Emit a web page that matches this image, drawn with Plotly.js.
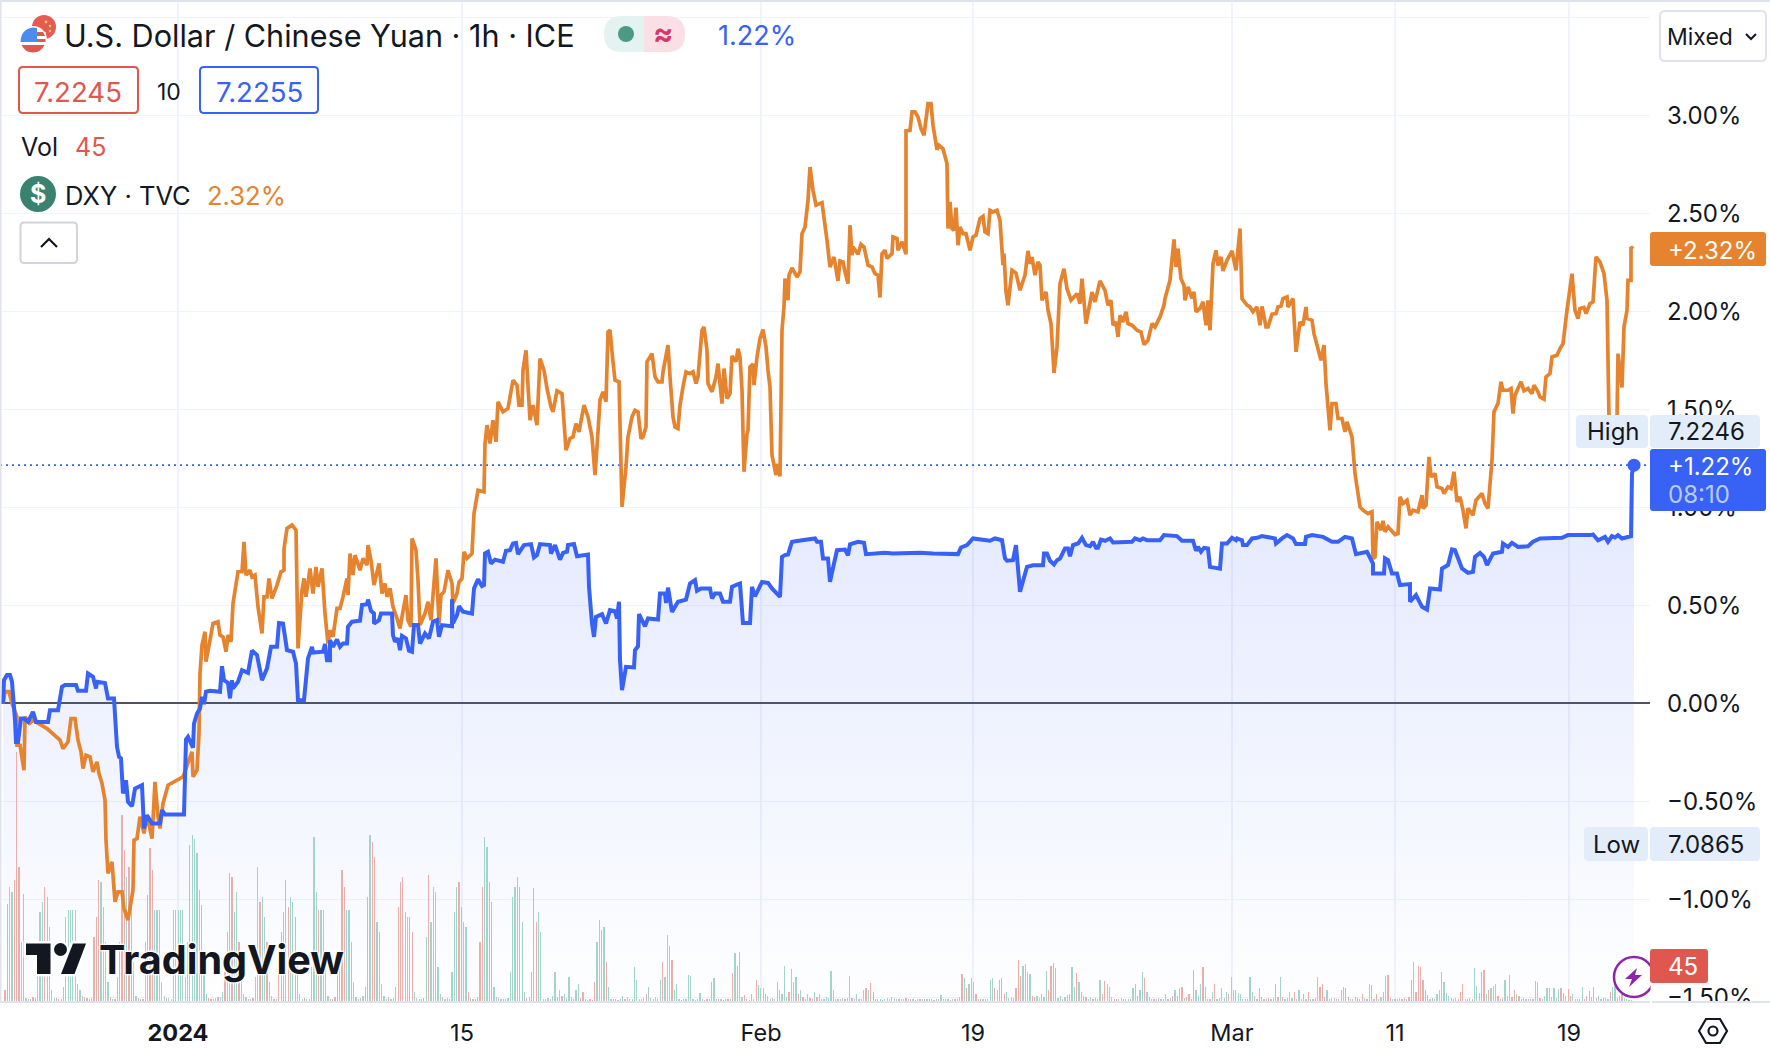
<!DOCTYPE html>
<html><head><meta charset="utf-8">
<script src="https://cdn.plot.ly/plotly-3.0.1.min.js"></script>
<style>html,body{margin:0;padding:0;background:#fff}#c{width:1770px;height:1048px}</style></head>
<body><div id="c"></div>
<script>
// x values are chart time slots; y values are percent change from the first bar
const orangeSlots=[3,5,9,12,17,17,20,24,25,30,33,47,60,63,68,71,75,78,81,83,86,90,93,97,99,102,105,106,108,112,115,118,122,124,128,133,134,137,140,144,147,152,155,158,160,163,168,183,192,193,197,199,200,202,205,206,210,213,218,220,223,226,228,231,233,238,242,244,246,250,252,255,258,262,264,267,269,272,277,281,284,284,287,292,296,298,302,304,306,310,313,316,318,322,325,328,330,333,337,340,
343,347,348,350,353,355,360,363,367,368,371,374,379,382,385,387,390,393,397,400,402,406,408,411,412,416,418,420,425,428,431,436,439,441,444,448,452,453,457,459,462,464,467,472,474,478,484,485,487,490,493,496,498,503,508,513,517,519,522,523,526,530,533,537,540,544,547,551,553,557,562,566,570,573,576,579,584,588,592,595,597,600,603,606,608,610,613,615,619,622,626,628,632,635,638,641,643,646,647,652,655,658,662,663,668,670,673,675,678,680,683,
686,690,693,696,698,702,704,707,708,712,716,718,722,724,727,730,732,736,738,740,742,744,747,748,750,753,754,757,760,763,766,768,770,772,776,777,780,782,784,785,788,789,792,797,800,802,805,808,810,813,816,822,827,830,834,838,840,843,845,848,850,852,853,858,861,864,868,872,875,878,880,882,885,887,892,893,897,898,902,906,906,910,912,915,918,921,924,928,931,933,937,939,943,947,948,950,952,954,956,958,960,963,966,970,973,976,980,983,985,988,990,993,997,1000,1003,1004,1006,1008,1012,1016,1020,1025,1028,1030,1032,1035,1038,1040,
1042,1046,1048,1051,1054,1057,1060,1064,1067,1071,1077,1080,1082,1086,1092,1095,1100,1105,1108,1111,1113,1116,1118,1120,1123,1126,1128,1132,1137,1141,1144,1148,1152,1155,1160,1164,1165,1170,1174,1176,1178,1181,1184,1185,1188,1192,1194,1196,1200,1203,1206,1208,1210,1213,1216,1218,1221,1223,1227,1232,1236,1240,1242,1247,1250,1253,1257,1260,1262,1266,1268,1272,1276,1278,1281,1283,1287,1288,1293,1296,1300,1303,1306,1307,1312,1314,1321,1324,1326,1330,1332,1336,1338,1342,1345,1347,1352,1355,1360,
1363,1368,1372,1373,1375,1377,1381,1383,1385,1388,1395,1398,1400,1403,1407,1410,1413,1418,1422,1423,1426,1429,1431,1435,1437,1442,1444,1448,1451,1454,1457,1460,1463,1466,1468,1473,1476,1482,1485,1488,1492,1494,1498,1501,1503,1508,1511,1513,1515,1521,1524,1528,1532,1534,1538,1540,1544,1546,1550,1552,1557,1560,1563,1567,1572,1575,1578,1580,1584,1586,1590,1593,1596,1600,1604,1607,1609,1617,1618,1622,1624,1627,1628,1631,1631,1633];
const orangeChange=[0,.06,.06,0,-.068,-.213,-.213,-.34,-.068,-.1,-.085,-.128,-.187,-.23,-.196,-.077,-.077,-.187,-.247,-.332,-.264,-.272,-.349,-.298,-.357,-.408,-.493,-.697,-.867,-.808,-1.012,-.961,-.961,-1.046,-1.105,-.952,-.697,-.689,-.578,-.663,-.57,-.689,-.4,-.578,-.638,-.51,-.417,-.374,-.247,-.374,-.34,-.153,.153,.298,.366,.213,.323,.408,.417,.349,.34,.264,.349,.315,.51,.672,.672,.825,.655,.68,.646,.655,.493,.357,.544,.544,.638,.536,.604,.672,.68,.79,.893,.91,.884,.281,.578,.638,.544,.689,.561,.697,.595,.689,.459,.306,.374,.34,.485,.485,
.544,.638,.553,.765,.655,.757,.68,.74,.706,.808,.731,.604,.714,.561,.612,.544,.587,.493,.434,.383,.442,.553,.425,.391,.842,.782,.629,.4,.459,.519,.425,.74,.408,.553,.57,.68,.612,.51,.561,.62,.638,.774,.74,.765,.969,1.088,1.08,1.326,1.42,1.326,1.445,1.335,1.539,1.488,1.505,1.649,1.624,1.522,1.522,1.7,1.802,1.445,1.522,1.42,1.76,1.7,1.607,1.513,1.488,1.595,1.581,1.292,1.352,1.36,1.428,1.386,1.522,1.462,1.36,1.165,1.309,1.547,1.59,1.539,1.896,1.904,1.743,1.649,1.641,1.003,1.207,1.36,1.462,1.496,1.488,1.352,1.36,1.411,1.743,1.785,1.666,1.641,1.641,1.692,1.828,1.666,1.462,1.411,1.403,1.522,1.615,
1.692,1.683,1.692,1.632,1.666,1.904,1.921,1.802,1.632,1.59,1.666,1.734,1.53,1.709,1.556,1.581,1.773,1.743,1.81,1.768,1.598,1.182,1.377,1.394,1.717,1.731,1.624,1.768,1.862,1.907,1.819,1.7,1.615,1.267,1.165,1.224,1.159,1.904,2.023,2.168,2.057,2.185,2.222,2.176,2.202,2.397,2.431,2.567,2.737,2.618,2.542,2.555,2.363,2.227,2.278,2.156,2.258,2.253,2.202,2.142,2.44,2.287,2.329,2.292,2.343,2.329,2.236,2.227,2.193,2.185,2.071,2.295,2.312,2.27,2.295,2.38,2.372,2.312,2.355,2.292,2.921,2.924,3.018,3.018,2.992,2.933,2.899,3.06,3.06,2.95,2.825,2.848,2.83,2.754,2.423,2.559,2.423,2.414,2.53,2.338,2.431,2.397,2.397,2.312,2.38,2.389,2.474,2.485,2.406,2.397,2.516,2.508,2.516,2.465,2.236,2.295,2.1,2.032,2.21,2.196,2.108,2.185,2.309,2.244,2.278,2.185,2.253,2.235,
2.057,2.1,2.006,1.938,1.686,1.819,2.142,2.218,2.116,2.057,2.091,2.04,2.167,1.938,2.099,2.049,2.156,2.108,2.032,2.057,1.93,1.946,1.87,1.98,1.946,1.998,1.938,1.93,1.904,1.895,1.831,1.853,1.938,1.921,1.972,2.032,2.066,2.159,2.368,2.227,2.32,2.167,2.133,2.057,2.125,2.066,2.1,1.998,2.015,2.049,1.93,2.057,1.904,2.244,2.312,2.235,2.278,2.207,2.261,2.309,2.21,2.423,2.066,2.032,2.023,1.998,2.023,1.93,2.026,1.921,1.921,1.986,1.989,2.023,2.028,2.066,2.074,2.023,2.066,1.794,1.946,1.93,2.023,1.964,1.955,1.887,1.751,1.828,1.632,1.394,1.53,1.53,1.454,1.454,1.386,1.437,1.36,1.173,1.003,
.986,.969,.978,.74,.748,.927,.884,.932,.876,.901,.862,.867,1.054,1.02,1.037,.961,.986,.978,1.063,.995,1.012,1.258,1.156,1.173,1.105,1.097,1.071,1.105,1.097,1.182,1.029,1.054,.986,.893,.995,.961,1.037,1.071,1.02,.995,1.241,1.488,1.53,1.641,1.598,1.598,1.607,1.479,1.573,1.641,1.595,1.607,1.581,1.624,1.59,1.564,1.552,1.666,1.683,1.768,1.777,1.81,1.836,2.006,2.193,2.006,1.964,2.015,2.02,1.989,2.04,2.049,2.278,2.253,2.193,2.057,1.45,1.45,1.785,1.612,1.921,2.006,2.159,2.159,2.329,2.32];
const blueSlots=[3,4,7,10,12,15,16,18,21,24,28,33,36,48,50,58,62,65,76,78,86,88,93,96,97,105,108,114,117,119,121,123,126,128,132,135,142,144,147,152,160,162,165,184,186,188,193,194,197,200,202,204,206,210,220,222,224,228,230,232,233,238,242,248,252,257,262,267,271,277,279,283,287,293,296,298,304,308,312,313,323,325,327,330,330,333,337,340,343,347,
348,352,360,362,367,368,371,374,374,379,381,392,393,395,398,400,402,406,409,412,414,418,420,425,429,433,437,439,442,452,452,453,457,459,463,472,474,478,482,484,485,488,491,495,503,506,510,513,516,518,524,531,534,537,540,550,551,555,560,563,567,568,574,577,588,589,592,594,596,602,606,610,615,617,619,620,622,626,634,635,638,639,645,648,658,660,665,666,668,672,
678,686,690,695,697,701,710,712,715,720,723,730,732,737,740,743,750,752,755,762,768,772,780,782,785,788,792,802,815,817,821,823,828,830,834,837,845,848,850,858,864,866,885,893,920,933,958,961,967,973,990,995,1002,1005,1007,1013,1016,1020,1027,1033,
1043,1044,1047,1050,1054,1057,1060,1065,1068,1070,1073,1078,1082,1086,1090,1093,1096,1098,1101,1105,1110,1113,1132,1135,1140,1143,1147,1160,1164,1177,1182,1193,1196,1198,1201,1204,1208,1210,1220,1222,1227,1232,1236,1237,1242,1243,1247,1252,1257,1262,1275,1276,1282,1287,1293,1296,1305,1306,1312,1323,
1332,1338,1345,1352,1356,1367,1373,1373,1384,1385,1388,1392,1397,1400,1410,1410,1416,1422,1427,1430,1440,1442,1448,1452,1455,1462,1468,1473,1475,1480,1484,1487,1493,1502,1503,1508,1512,1518,1528,1533,1540,1562,1568,1590,1593,1598,1605,1608,1612,1615,1618,1622,1631,1632,1634];
const blueChange=[0,.119,.145,.145,.111,-.085,-.196,-.196,-.077,-.077,-.094,-.043,-.094,-.094,-.034,-.034,.085,.094,.094,.065,.065,.153,.136,.077,.111,.105,.026,.026,-.221,-.272,-.281,-.459,-.391,-.502,-.524,-.434,-.417,-.638,-.57,-.612,-.612,-.544,-.566,-.566,-.184,-.17,-.225,-.102,-.051,-.026,.034,-.003,.06,.065,.06,.19,.119,.105,.026,.119,.077,.111,.17,.156,.27,.247,.119,.179,.289,.289,.411,.408,.272,.264,.204,.017,.017,.23,.289,.26,.264,.304,.221,.221,.323,.289,.326,.289,.306,.306,
.391,.417,.422,.502,.506,.53,.472,.459,.408,.425,.459,.459,.349,.315,.332,.272,.345,.332,.269,.264,.4,.4,.306,.357,.332,.417,.425,.34,.4,.394,.532,.41,.451,.496,.468,.459,.587,.633,.599,.604,.765,.774,.714,.734,.723,.779,.782,.816,.819,.762,.808,.813,.745,.757,.813,.808,.765,.808,.734,.768,.774,.808,.813,.751,.76,.595,.408,.34,.442,.456,.408,.476,.471,.434,.519,.221,.068,.187,.184,.272,.292,.456,.394,.434,.428,.561,.561,.513,.591,.467,
.519,.53,.612,.629,.575,.587,.587,.536,.561,.561,.519,.519,.595,.607,.612,.41,.41,.595,.547,.62,.615,.587,.544,.748,.757,.76,.825,.833,.842,.825,.825,.74,.74,.621,.714,.782,.785,.756,.812,.825,.82,.762,.769,.765,.769,.765,.762,.796,.808,.842,.83,.842,.833,.74,.728,.731,.808,.57,.697,.705,
.705,.765,.765,.728,.709,.731,.739,.791,.791,.751,.808,.816,.845,.808,.802,.825,.794,.794,.836,.83,.842,.821,.825,.842,.833,.842,.833,.833,.859,.854,.83,.83,.779,.799,.774,.794,.791,.697,.688,.816,.816,.845,.833,.842,.833,.808,.808,.842,.845,.854,.842,.816,.842,.859,.842,.813,.813,.85,.859,.85,
.825,.825,.85,.842,.762,.774,.714,.663,.663,.74,.731,.663,.663,.604,.609,.519,.553,.493,.479,.587,.581,.689,.706,.786,.782,.689,.666,.672,.748,.768,.748,.706,.765,.774,.816,.799,.82,.799,.802,.825,.842,.845,.859,.859,.862,.833,.85,.825,.854,.847,.859,.842,.854,1.173,1.216];
// volume per bar: the sign carries the bar colour (+ up, - down)
const volumeSigned=[-12,-98,115,110,-122,-250,-135,60,-108,4,-3,3,
-5,-4,60,90,100,-115,-105,75,12,4,-4,-3,
3,15,85,92,92,92,92,18,12,-6,5,-4,
3,-4,-65,-85,-122,120,95,60,20,-5,3,-3,
-25,-60,-187,-152,125,-135,-100,-40,6,-4,3,-3,
60,-107,-154,-132,92,92,92,20,6,-4,4,3,
92,92,92,92,92,25,60,-157,167,163,149,112,
97,35,8,-4,-3,3,4,-5,5,10,-30,70,
-129,-125,90,110,-60,40,8,5,-3,3,-4,25,
135,-100,105,85,-60,20,6,-3,3,-30,-70,-90,
-122,-95,105,100,-85,40,8,3,-4,3,-3,35,
165,110,-92,92,92,45,6,-3,3,-5,-30,-50,
-132,-115,92,92,-60,20,5,3,-4,6,-15,-105,
167,-160,-145,80,70,18,6,3,-5,3,-4,-15,
-95,-120,-125,90,85,-85,-70,10,4,-3,3,-4,
65,-127,80,115,110,35,8,-5,3,-4,3,30,
90,115,-120,-95,80,75,-10,4,-3,3,-5,-60,
-115,165,155,-120,-100,15,5,-4,3,-3,3,4,
30,105,115,-125,-115,80,10,-4,-5,-30,-114,-80,
90,70,3,-3,4,-3,6,30,5,12,-6,8,
4,25,5,-3,12,18,-4,-10,3,-2,-3,-2,
-20,60,82,72,75,-40,15,3,-3,-3,-2,3,
6,-3,5,-3,3,35,22,-3,3,-4,-8,15,
4,-3,5,-3,22,-40,25,67,56,-42,12,18,
3,-2,3,3,27,26,3,-2,3,9,3,-2,
-3,-3,-20,24,3,-3,3,-2,-3,-3,3,-29,
49,-36,50,5,-7,-3,-2,-8,3,-22,17,14,
14,-8,6,3,-4,3,-20,12,8,36,5,-10,
33,20,25,-8,12,-5,3,8,-4,-3,10,-5,
8,-3,3,5,4,31,12,-3,3,-3,4,-3,
4,26,-4,3,8,-3,3,12,-14,12,-19,-10,
3,-3,3,2,3,-4,3,-5,4,3,-3,3,
3,-4,3,-3,3,-2,3,-3,3,-3,3,3,
-3,-2,3,-3,7,3,-3,3,-2,3,-3,3,
-5,-28,24,-14,18,24,20,-8,3,-3,3,-3,
3,22,24,-14,12,-22,-24,-8,10,4,-5,4,
-14,-42,-26,36,38,30,28,-6,-5,6,4,-8,
5,31,-12,-36,-39,-34,4,6,-3,5,7,8,
35,15,-29,20,10,-6,-5,3,5,-3,-4,3,
22,-8,-21,18,15,5,-3,3,-3,4,-3,3,
3,-3,14,18,-6,12,30,-24,10,-5,3,-3,
3,-4,3,-3,8,-3,4,-6,12,-6,14,-15,
4,-5,-8,-3,-32,12,6,18,-35,15,3,-3,
10,-18,3,-4,-14,4,10,-8,25,12,-12,9,
8,3,-3,3,25,10,-6,3,-14,-5,3,-3,
-4,3,4,-18,-5,25,-5,3,-4,10,4,-10,
-3,12,3,-8,3,-10,3,-3,4,25,-15,-18,
-5,12,-3,4,-4,3,-3,-12,15,-14,-5,3,
-3,-5,4,-3,-8,4,-3,18,-17,-3,-8,3,
5,-10,26,-27,-4,3,-3,3,4,-3,-4,3,
-5,-22,40,-10,-36,-35,-22,-12,-7,3,-4,3,
8,12,30,20,9,6,-4,3,4,-3,-10,-18,
3,-3,4,-3,34,16,9,-30,-32,8,-12,14,
16,18,-6,3,-4,22,6,27,-5,-12,8,-6,
3,-4,3,-3,3,-3,21,20,-4,3,6,14,
14,5,14,4,13,-14,-9,6,-13,-6,8,3,
3,-3,15,-3,-6,-11,-5,-15,-4,6,3,-4,
4,3,-10,15,16,4,6,-8,4,3,2,-2];
const timeTickSlots=[178,462,761,973,1232,1395,1569];
const timeTickLabels=['<b>2024</b>','15','Feb','19','Mar','11','19'];
const pctTicks=[3.5,3,2.5,2,1.5,1,.5,0,-.5,-1,-1.5];
const pctLabels=['','3.00%','2.50%','2.00%','1.50%','1.00%','0.50%','0.00%','\u22120.50%','\u22121.00%','\u22121.50%'];

const W=1650,H=1002,INK='#131722',BLUE='#3861f6',ORANGE='#e6832e',RED='#e0574f',FONT='Inter, sans-serif';
const PCT_RANGE=[-1.523,3.589];
const X=p=>p/W, Y=p=>1-p/H;
const shapes=[], anns=[];
function path(d,o={}){shapes.push({type:'path',xref:'paper',yref:'paper',path:d,fillcolor:o.fill||'rgba(0,0,0,0)',line:{color:o.stroke||'rgba(0,0,0,0)',width:o.w||0},layer:'above'});}
function P(x,y){return X(x)+','+Y(y);}
function rr(x0,y0,x1,y1,r,o){path(`M${P(x0+r,y0)} L${P(x1-r,y0)} Q${P(x1,y0)} ${P(x1,y0+r)} L${P(x1,y1-r)} Q${P(x1,y1)} ${P(x1-r,y1)} L${P(x0+r,y1)} Q${P(x0,y1)} ${P(x0,y1-r)} L${P(x0,y0+r)} Q${P(x0,y0)} ${P(x0+r,y0)} Z`,o);}
function rect(x0,y0,x1,y1,fill){shapes.push({type:'rect',xref:'paper',yref:'paper',x0:X(x0),x1:X(x1),y0:Y(y0),y1:Y(y1),fillcolor:fill,line:{width:0},layer:'above'});}
function circ(cx,cy,r,o={}){shapes.push({type:'circle',xref:'paper',yref:'paper',x0:X(cx-r),x1:X(cx+r),y0:Y(cy-r),y1:Y(cy+r),fillcolor:o.fill||'rgba(0,0,0,0)',line:{color:o.stroke||'rgba(0,0,0,0)',width:o.w||0},layer:'above'});}
function text(t,x,y,size,color,anchor='left',extra={}){anns.push({text:t,x:X(x),y:Y(y),xref:'paper',yref:'paper',showarrow:false,xanchor:anchor,yanchor:'middle',borderpad:0,font:Object.assign({family:FONT,size,color},extra)});}

// frame
rect(0,1003,1650,1009,'#ffffff'); rect(1652,1003,1770,1009,'#ffffff');
rect(0,1001,1650,1003,'#e0e3eb'); rect(1652,1001,1770,1003,'#e0e3eb');
rect(0,0,1770,2,'#e0e3eb'); rect(0,0,1.5,1003,'#e0e3eb');
// header: flag badges
circ(44,27,12,{fill:'#e55b52'});
circ(46,22,1.4,{fill:'#f6d55c'}); circ(50,26,1.2,{fill:'#f6d55c'}); circ(50,31,1.2,{fill:'#f6d55c'}); circ(45,33,1.2,{fill:'#f6d55c'});
circ(33,40,14,{fill:'#ffffff'}); circ(33,40,12.5,{fill:'#ffffff'});
path(`M${P(20.5,42)} Q${P(21,29)} ${P(33,27.5)} L${P(37,28)} L${P(37,42)} Z`,{fill:'#4a8cf0'});
path(`M${P(37,32)} L${P(43,32)} L${P(45,36)} L${P(37,36)} Z`,{fill:'#e0574f'});
rect(37,39,45.5,42,'#e0574f');
path(`M${P(21.5,45)} L${P(44.5,45)} Q${P(41,52.5)} ${P(33,52.5)} Q${P(25,52.5)} ${P(21.5,45)} Z`,{fill:'#e0574f'});
// header: pill and quote boxes
path(`M${P(622,16)} L${P(644,16)} L${P(644,52)} L${P(622,52)} Q${P(604,52)} ${P(604,34)} Q${P(604,16)} ${P(622,16)} Z`,{fill:'#e5f3f0'});
path(`M${P(644,16)} L${P(667,16)} Q${P(685,16)} ${P(685,34)} Q${P(685,52)} ${P(667,52)} L${P(644,52)} Z`,{fill:'#f9e0e7'});
circ(626,34,8,{fill:'#4a9a84'});
rr(19,67,138,113,4,{stroke:RED,w:2}); rr(200,67,318,113,4,{stroke:BLUE,w:2});
circ(38,194,18,{fill:'#3a8270'});
rr(20.5,222.5,77,263,4,{stroke:'#d1d4dc',w:2,fill:'#fff'});
path(`M${P(41,247)} L${P(49,239)} L${P(57,247)}`,{stroke:INK,w:2.2});
text('U.S. Dollar / Chinese Yuan · 1h · ICE',63,35,30.6,INK);
text('≈',663,33,30,'#d5376a','center',{weight:700});
text('1.22%',717,35,27,BLUE);
text('7.2245',78,91.5,27.6,RED,'center'); text('10',169,91.5,23,INK,'center'); text('7.2255',259,91.5,27.6,BLUE,'center');
text('Vol',20,147,25,INK); text('45',74,147,25,RED);
text('$',38,194,25,'#fff','center',{weight:700});
text('DXY · TVC',63.5,195,25.5,INK); text('2.32%',206,195,25.6,ORANGE);
// mixed button
rr(1660,11,1766,61,5,{stroke:'#e0e3eb',w:2,fill:'#fff'});
text('Mixed',1666,37,23,INK);
path(`M${P(1746,34)} L${P(1751,39)} L${P(1756,34)}`,{stroke:INK,w:2});
// trading view mark
const tvT=`M${P(26,943.5)} L${P(50.5,943.5)} L${P(50.5,974)} L${P(37,974)} L${P(37,955)} L${P(26,955)} Z`;
const tvS=`M${P(73,943.5)} L${P(86,943.5)} L${P(74.5,974)} L${P(61,974)} Z`;
path(tvT,{stroke:'#fff',w:5,fill:'#fff'}); path(tvS,{stroke:'#fff',w:5,fill:'#fff'}); circ(60.5,949.5,8.5,{fill:'#fff'});
path(tvT,{fill:INK}); path(tvS,{fill:INK}); circ(60.5,949.5,6.5,{fill:INK});
text('TradingView',98,959.5,39.6,INK,'left',{weight:700,shadow:'1px 1px 2px #fff, -1px -1px 2px #fff, 1px -1px 2px #fff, -1px 1px 2px #fff'});
// lightning badge
circ(1634,977,20,{stroke:'#8e24aa',w:2.5,fill:'#fff'});
path(`M${P(1637,968)} L${P(1625,979)} L${P(1632,979)} L${P(1629,987)} L${P(1642,975)} L${P(1635,975)} Z`,{fill:'#8e24aa'});
rect(1650.5,950,1660,1000,'#fff');
// price-axis tags
rr(1650,232,1766,266,3,{fill:ORANGE}); text('+2.32%',1667,250.5,24,'#fff');
rr(1576,415,1648,448,4,{fill:'#e3edf9'}); rr(1650,415,1760,448,4,{fill:'#e3edf9'});
text('High',1613,431.5,24,INK,'center'); text('7.2246',1667,431.5,24,INK);
rr(1650,449,1766,511,3,{fill:BLUE}); text('+1.22%',1667,466.5,24,'#fff'); text('08:10',1667,494.5,24,'#bccafb');
rr(1584,827,1648,861,4,{fill:'#e3edf9'}); rr(1650,827,1760,861,4,{fill:'#e3edf9'});
text('Low',1616,844.5,24,INK,'center'); text('7.0865',1667,844.5,24,INK);
rr(1650,949,1708,983,3,{fill:RED}); text('45',1667,966.5,24,'#fff');
// gear
path(`M${P(1699,1031)} L${P(1706,1019)} L${P(1720,1019)} L${P(1727,1031)} L${P(1720,1043)} L${P(1706,1043)} Z`,{stroke:INK,w:2.2});
circ(1713,1031,4.5,{stroke:INK,w:2.2});

const traces=[
 {x:blueSlots,y:blueSlots.map(()=>PCT_RANGE[0]),type:'scatter',mode:'lines',line:{width:0},hoverinfo:'skip',yaxis:'y',xaxis:'x'},
 {x:blueSlots,y:blueChange,type:'scatter',mode:'none',fill:'tonexty',yaxis:'y',xaxis:'x',hoverinfo:'skip',
  fillgradient:{type:'vertical',start:PCT_RANGE[0],stop:1.3,colorscale:[[0,'rgba(56,97,246,0.005)'],[1,'rgba(56,97,246,0.15)']]}},
 {x0:5,dx:2.34,y:volumeSigned.map(Math.abs),type:'bar',width:1.25,yaxis:'y2',xaxis:'x',
  marker:{color:volumeSigned.map(v=>v<0?'#ecaeab':'#a3d4cc'),line:{width:0}}},
 {x:[0,W],y:[blueChange[blueChange.length-1],blueChange[blueChange.length-1]],type:'scatter',mode:'lines',yaxis:'y3',xaxis:'x',line:{color:BLUE,width:1.6,dash:'2px,4px'}},
 {x:orangeSlots,y:orangeChange,type:'scatter',mode:'lines',yaxis:'y3',xaxis:'x',line:{color:ORANGE,width:3.7,simplify:false,shape:'linear'}},
 {x:blueSlots,y:blueChange,type:'scatter',mode:'lines',yaxis:'y3',xaxis:'x',line:{color:BLUE,width:4,simplify:false}},
 {x:[blueSlots[blueSlots.length-1]],y:[blueChange[blueChange.length-1]],type:'scatter',mode:'markers',yaxis:'y3',xaxis:'x',marker:{color:BLUE,size:13}}
];
const layout={width:1770,height:1048,margin:{l:0,r:120,t:0,b:46},showlegend:false,paper_bgcolor:'#fff',plot_bgcolor:'#fff',font:{family:FONT,color:INK},hovermode:false,bargap:0,
 xaxis:{range:[0,W],tickmode:'array',tickvals:timeTickSlots,ticktext:timeTickLabels,ticks:'',showline:false,gridcolor:'#f0f3fa',gridwidth:1.6,zeroline:false,ticklabelstandoff:14,tickfont:{size:23.5,color:INK,family:FONT},tickangle:0},
 yaxis:{range:PCT_RANGE,side:'right',tickmode:'array',tickvals:pctTicks,ticktext:pctLabels,ticks:'',showline:false,gridcolor:'#f0f3fa',gridwidth:1.6,zeroline:true,zerolinecolor:'#50535e',zerolinewidth:2,ticklabelstandoff:16,tickfont:{size:24,color:INK,family:FONT}},
 yaxis2:{range:[0,H],overlaying:'y',visible:false,fixedrange:true},
 yaxis3:{range:PCT_RANGE,overlaying:'y',visible:false,fixedrange:true},
 shapes,annotations:anns};
Plotly.newPlot('c',traces,layout,{staticPlot:true,displayModeBar:false,responsive:false});
</script></body></html>
